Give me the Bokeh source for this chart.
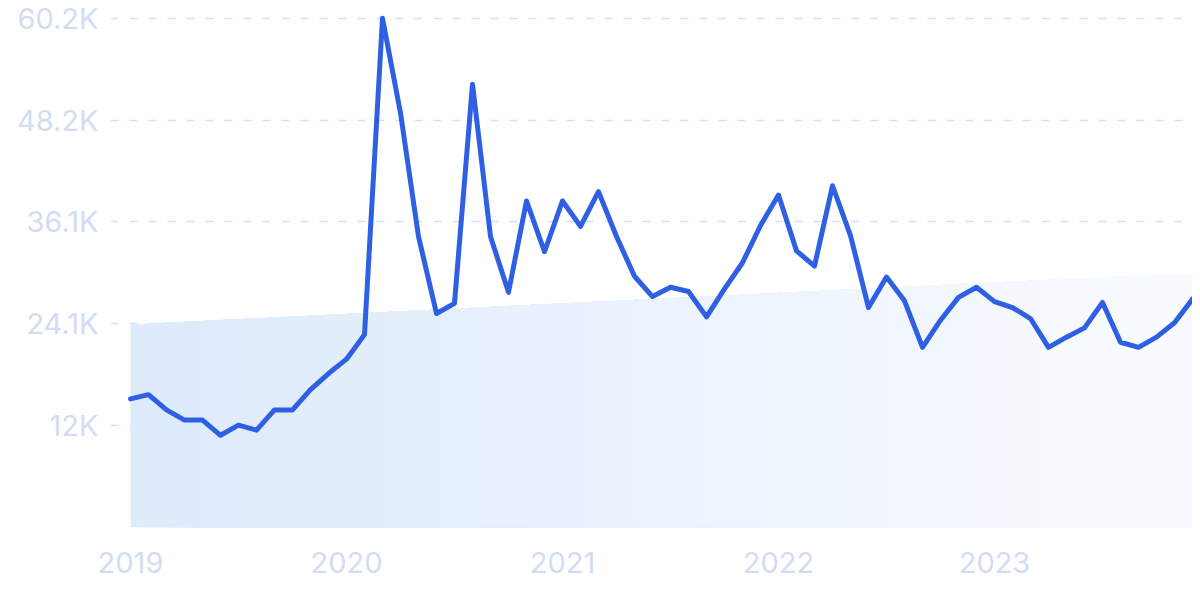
from bokeh.plotting import figure
from bokeh.models import Range1d, FixedTicker
from bokeh.embed import file_html
from bokeh.resources import INLINE

# ---- data ----
values = [15200, 15700, 13900, 12700, 12700, 10900, 12100, 11500, 13900, 13900,
          16300, 18200, 19900, 22800, 60200, 49000, 34400, 25300, 26500, 52400,
          34400, 27800, 38600, 32600, 38600, 35600, 39700, 34400, 29700, 27300,
          28400, 27900, 24900, 28200, 31300, 35700, 39300, 32700, 30900, 40400,
          34500, 26000, 29600, 26800, 21300, 24500, 27200, 28400, 26700, 26000,
          24700, 21300, 22500, 23600, 26600, 21900, 21300, 22500, 24200, 27000]
months = list(range(len(values)))
year_labels = ["2019", "2020", "2021", "2022", "2023"]
year_ticks = [0, 12, 24, 36, 48]
y_ticks = [12040, 24080, 36120, 48160, 60200]
y_labels = ["12K", "24.1K", "36.1K", "48.2K", "60.2K"]
trend_start = 24000
trend_end = 30100

# ---- figure ----
p = figure(width=1192, height=583, output_backend="svg", toolbar_location=None,
           x_range=Range1d(-1.111, 59.0), y_range=Range1d(0, 61350),
           min_border_left=110, min_border_right=0, min_border_top=8,
           min_border_bottom=56)
p.outline_line_color = None
p.background_fill_color = "white"
p.border_fill_color = "white"

# gradient trend area as stacked strips
x0, x1 = months[0], months[-1]
n = 120
c0 = (222, 235, 251)
c1 = (250, 252, 255)
xs, ys, cols = [], [], []
for k in range(n):
    f = k / n
    xa = x0 + (x1 - x0) * f
    ta = trend_start + (trend_end - trend_start) * f
    xs.append([xa, x1, x1, xa])
    ys.append([0, 0, trend_end, ta])
    r = int(c0[0] + (c1[0] - c0[0]) * f)
    g = int(c0[1] + (c1[1] - c0[1]) * f)
    b = int(c0[2] + (c1[2] - c0[2]) * f)
    cols.append("#%02x%02x%02x" % (r, g, b))
p.patches(xs, ys, fill_color=cols, line_color=None)

p.line(months, values, line_color="#2f60e4", line_width=5,
       line_join="round", line_cap="round")

# axes
lab_col = "#d3dcf4"
p.xaxis.ticker = FixedTicker(ticks=year_ticks)
p.xaxis.major_label_overrides = {t: l for t, l in zip(year_ticks, year_labels)}
p.yaxis.ticker = FixedTicker(ticks=y_ticks)
p.yaxis.major_label_overrides = {t: l for t, l in zip(y_ticks, y_labels)}
for ax in (p.xaxis, p.yaxis):
    ax.axis_line_color = None
    ax.major_tick_line_color = None
    ax.minor_tick_line_color = None
    ax.major_label_text_color = lab_col
    ax.major_label_text_font = "Inter"
    ax.major_label_text_font_size = "29px"
p.xaxis.major_label_standoff = 18
p.yaxis.major_label_standoff = 6

p.xgrid.grid_line_color = None
p.ygrid.grid_line_color = "#d2e1fb"
p.ygrid.grid_line_dash = "8 11"
p.ygrid.grid_line_width = 1.5

open("out.html", "w").write(file_html(p, INLINE))
